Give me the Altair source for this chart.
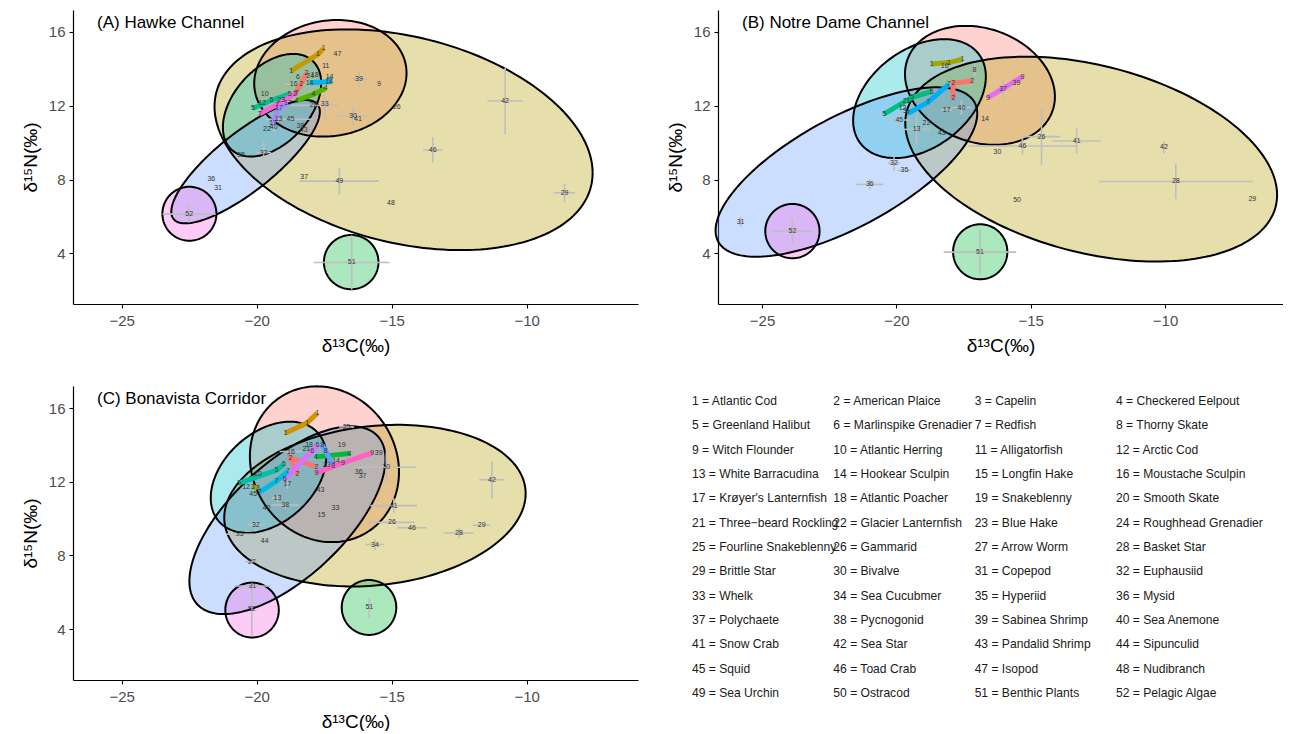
import altair as alt
import numpy as np
import pandas as pd

FONT = "Liberation Sans"
W, H = 565, 294
XT = "δ¹³C(‰)"
YT = "δ¹⁵N(‰)"

# ellipse fill colours per group
GCOL = {"red": "#F8766D", "olive": "#B79F00", "green": "#00BA38",
        "cyan": "#00BFC4", "blue": "#619CFF", "magenta": "#F564E3"}

# ---------------- Panel A: Hawke Channel ----------------
A_xdom = [-26.8, -5.88]
A_ydom = [1.26, 17.19]
# group, cx, cy, rx, ry, rho
A_ell = [("red", -17.27, 13.49, 2.82, 3.16, 0.09),
         ("olive", -14.56, 10.16, 7.0, 5.98, -0.30),
         ("green", -16.5, 3.53, 1.01, 1.47, 0.0),
         ("cyan", -19.43, 12.03, 1.82, 2.78, 0.43),
         ("blue", -20.41, 8.97, 2.75, 3.34, 0.81),
         ("magenta", -22.49, 6.15, 1.0, 1.46, 0.0)]
A_lines = [("1", -18.72, 13.89), ("1", -17.73, 14.79), ("1", -17.52, 15.11),
           ("2", -18.58, 12.62), ("2", -18.35, 13.2), ("2", -18.16, 13.76),
           ("4", -18.53, 12.28), ("4", -17.9, 12.62), ("4", -17.44, 12.95),
           ("5", -20.14, 11.86), ("5", -19.45, 12.3), ("5", -18.78, 12.64),
           ("7", -19.89, 11.56), ("7", -19.25, 12.05), ("7", -18.53, 12.71),
           ("14", -18.04, 13.25), ("14", -17.32, 13.3), ("14", -17.3, 13.55),
           ("17", -19.4, 11.05), ("17", -19.17, 11.88), ("17", -18.84, 12.13)]
A_line_col = {"1": "#C49A00", "2": "#F8766D", "4": "#53B400", "5": "#00C094",
              "14": "#00B6EB", "17": "#A58AFF", "7": "#FB61D7"}
# label, x, y, x error, y error
A_pts = [("47", -17.01, 14.79, 0, 0), ("11", -17.44, 14.16, 0, 0),
         ("39", -16.21, 13.45, 0.3, 0.43), ("9", -15.47, 13.18, 0, 0),
         ("26", -14.81, 11.92, 0, 0), ("42", -10.8, 12.26, 0.66, 1.8),
         ("46", -13.48, 9.6, 0.36, 0.7), ("29", -8.6, 7.29, 0.4, 0.5),
         ("48", -15.03, 6.73, 0, 0), ("49", -16.94, 7.92, 1.47, 0.74),
         ("37", -18.24, 8.16, 0, 0), ("51", -16.48, 3.51, 1.4, 1.47),
         ("52", -22.5, 6.13, 0.98, 0.45), ("36", -21.68, 8.03, 0, 0),
         ("31", -21.43, 7.53, 0, 0), ("35", -20.57, 9.33, 0, 0),
         ("32", -19.74, 9.46, 0.28, 0.59), ("22", -19.62, 10.72, 0, 0),
         ("40", -19.37, 10.83, 0, 0.25), ("13", -19.19, 11.27, 0, 0),
         ("45", -18.75, 11.27, 0.9, 0), ("38", -18.38, 10.9, 0, 0),
         ("43", -18.26, 10.69, 0, 0), ("30", -16.43, 11.45, 0.59, 0.5),
         ("41", -16.25, 11.3, 0, 0), ("28", -17.89, 12.02, 0.9, 0),
         ("33", -17.48, 12.08, 0, 0.9), ("6", -18.47, 13.54, 0, 0),
         ("16", -18.63, 13.18, 0.35, 0), ("10", -19.70, 12.64, 0, 0),
         ("23", -19.09, 12.31, 0, 0), ("12", -19.79, 12.17, 0, 0),
         ("24", -18.02, 13.62, 0, 0), ("18", -17.85, 13.68, 0, 0)]

# ---------------- Panel B: Notre Dame Channel ----------------
B_xdom = [-26.64, -5.61]
B_ydom = [1.26, 17.19]
B_ell = [("red", -16.89, 13.11, 2.79, 3.22, -0.19),
         ("olive", -12.75, 9.11, 6.92, 5.55, -0.35),
         ("green", -16.88, 4.09, 1.01, 1.49, 0.0),
         ("cyan", -19.14, 12.39, 2.47, 3.22, 0.37),
         ("blue", -21.86, 8.41, 4.87, 4.59, 0.69),
         ("magenta", -23.87, 5.21, 1.01, 1.47, 0.0)]
B_lines = [("1", -18.69, 14.27), ("1", -18.04, 14.34), ("1", -17.54, 14.52),
           ("2", -17.89, 12.4), ("2", -17.89, 13.22), ("2", -17.18, 13.34),
           ("5", -20.45, 11.56), ("5", -19.41, 12.46), ("5", -18.69, 12.77),
           ("7", -19.56, 11.59), ("7", -18.82, 12.2), ("7", -18.05, 13.16),
           ("9", -16.59, 12.44), ("9", -15.31, 13.58)]
B_line_col = {"1": "#A3A500", "2": "#F8766D", "5": "#00BF7D", "7": "#00B0F6", "9": "#E76BF3"}
B_pts = [("16", -18.2, 14.17, 0, 0), ("8", -17.09, 13.96, 0, 0.35),
         ("37", -16.03, 12.89, 0.3, 0.5), ("39", -15.53, 13.22, 0, 0),
         ("17", -18.13, 11.77, 0.2, 0), ("40", -17.58, 11.9, 0.39, 0.4),
         ("14", -16.7, 11.27, 0, 0), ("45", -19.89, 11.23, 0.42, 0.45),
         ("13", -19.25, 10.72, 0.49, 0.86), ("22", -18.88, 11.05, 0, 0.2),
         ("43", -18.32, 10.54, 0, 0), ("30", -16.24, 9.51, 0, 0),
         ("46", -15.31, 9.82, 2.0, 0.47), ("26", -14.6, 10.33, 0.7, 1.54),
         ("41", -13.29, 10.09, 0.9, 0.68), ("42", -10.04, 9.75, 0, 0.33),
         ("28", -9.60, 7.90, 2.86, 0.97), ("50", -15.51, 6.89, 0, 0),
         ("29", -6.75, 6.93, 0, 0), ("51", -16.89, 4.07, 1.35, 1.22),
         ("52", -23.87, 5.21, 0.76, 0.68), ("31", -25.80, 5.72, 0, 0.27),
         ("36", -20.99, 7.74, 0.5, 0.27), ("35", -19.70, 8.50, 0.26, 0),
         ("32", -20.09, 8.9, 0.23, 0.4), ("12", -19.77, 11.9, 0, 0),
         ("3", -19.68, 11.7, 0, 0), ("21", -19.62, 12.25, 0, 0)]

# ---------------- Panel C: Bonavista Corridor ----------------
C_xdom = [-26.8, -5.88]
C_ydom = [1.23, 17.2]
C_ell = [("red", -17.49, 12.95, 2.76, 4.23, -0.1),
         ("olive", -15.62, 10.70, 5.58, 4.39, 0.15),
         ("green", -15.84, 5.17, 1.01, 1.49, 0.0),
         ("cyan", -19.56, 12.24, 2.14, 3.02, 0.37),
         ("blue", -18.86, 9.91, 3.63, 5.1, 0.65),
         ("magenta", -20.17, 5.03, 0.99, 1.49, 0.0)]
C_lines = [("1", -18.93, 14.65), ("1", -18.13, 15.2), ("1", -17.75, 15.73),
           ("2", -18.49, 12.4), ("2", -18.75, 13.31), ("2", -17.79, 12.8),
           ("3", -20.15, 11.73), ("3", -19.95, 11.65),
           ("4", -17.81, 13.35), ("4", -16.56, 13.53),
           ("5", -20.65, 11.93), ("5", -19.27, 12.62), ("5", -18.99, 12.95),
           ("6", -18.96, 12.13), ("6", -17.94, 13.67), ("6", -17.75, 13.98),
           ("7", -19.89, 11.44), ("7", -19.27, 12.02), ("7", -18.84, 12.58),
           ("8", -17.57, 13.98), ("8", -17.44, 13.67), ("8", -17.17, 12.84),
           ("9", -17.79, 12.48), ("9", -16.8, 13.02), ("9", -15.72, 13.57)]
C_line_col = {"1": "#D39200", "2": "#F8766D", "3": "#93AA00", "4": "#00BA38",
              "5": "#00C19F", "6": "#DB72FB", "7": "#00B9E3", "8": "#619CFF", "9": "#FF61C3"}
C_pts = [("25", -16.67, 14.98, 0.28, 0), ("18", -18.06, 14.0, 0, 0),
         ("21", -18.16, 13.77, 0, 0), ("19", -16.85, 14.0, 0, 0),
         ("16", -18.73, 13.64, 0.42, 0), ("39", -15.48, 13.57, 0, 0),
         ("12", -20.39, 11.71, 0, 0), ("45", -20.13, 11.31, 0, 0),
         ("10", -19.95, 12.44, 0, 0), ("17", -18.86, 11.88, 0, 0.27),
         ("14", -17.06, 13.11, 0, 0), ("23", -17.41, 12.89, 0, 0),
         ("36", -16.22, 12.53, 0, 0), ("37", -16.08, 12.33, 0, 0),
         ("30", -15.2, 12.79, 1.1, 0.82), ("42", -11.29, 12.11, 0.47, 1.03),
         ("43", -17.64, 11.57, 0, 0), ("13", -19.23, 11.1, 0.2, 0.2),
         ("38", -18.94, 10.73, 0.52, 0.2), ("40", -19.64, 10.55, 0, 0),
         ("33", -17.08, 10.55, 0, 0), ("15", -17.6, 10.19, 0, 0),
         ("41", -14.92, 10.7, 0.87, 0.4), ("26", -14.99, 9.79, 0.84, 0),
         ("46", -14.25, 9.5, 0.54, 0), ("28", -12.51, 9.21, 0.54, 0.3),
         ("29", -11.67, 9.64, 0.33, 0), ("34", -15.62, 8.59, 0.35, 0.3),
         ("32", -20.03, 9.66, 0.33, 0.36), ("35", -20.63, 9.15, 0.52, 0),
         ("44", -19.7, 8.77, 0, 0), ("27", -20.18, 7.66, 0.26, 0),
         ("31", -20.16, 6.34, 0.68, 0), ("52", -20.18, 5.06, 0, 1.45),
         ("51", -15.83, 5.17, 0, 0.55)]

# ---------------- Species key ----------------
SPECIES = ["Atlantic Cod", "American Plaice", "Capelin", "Checkered Eelpout",
           "Greenland Halibut", "Marlinspike Grenadier", "Redfish", "Thorny Skate",
           "Witch Flounder", "Atlantic Herring", "Alligatorfish", "Arctic Cod",
           "White Barracudina", "Hookear Sculpin", "Longfin Hake", "Moustache Sculpin",
           "Krøyer's Lanternfish", "Atlantic Poacher", "Snakeblenny", "Smooth Skate",
           "Three−beard Rockling", "Glacier Lanternfish", "Blue Hake", "Roughhead Grenadier",
           "Fourline Snakeblenny", "Gammarid", "Arrow Worm", "Basket Star",
           "Brittle Star", "Bivalve", "Copepod", "Euphausiid",
           "Whelk", "Sea Cucubmer", "Hyperiid", "Mysid",
           "Polychaete", "Pycnogonid", "Sabinea Shrimp", "Sea Anemone",
           "Snow Crab", "Sea Star", "Pandalid Shrimp", "Sipunculid",
           "Squid", "Toad Crab", "Isopod", "Nudibranch",
           "Sea Urchin", "Ostracod", "Benthic Plants", "Pelagic Algae"]


def panel(ell, lines, line_col, pts, title, xdom, ydom):
    xs = alt.Scale(domain=xdom, nice=False, zero=False)
    ys = alt.Scale(domain=ydom, nice=False, zero=False)
    xax = alt.Axis(values=[-25, -20, -15, -10], title=XT, labelPadding=5, titlePadding=8)
    yax = alt.Axis(values=[4, 8, 12, 16], title=YT, labelPadding=4, titlePadding=8)

    def X(f):
        return alt.X(f, type="quantitative", scale=xs, axis=xax, title=XT)

    def Y(f):
        return alt.Y(f, type="quantitative", scale=ys, axis=yax, title=YT)

    area_rows, out_rows = [], []
    th = np.linspace(0, np.pi, 91)
    tf = np.linspace(0, 2 * np.pi, 181)
    for g, cx, cy, rx, ry, rho in ell:
        s = np.sqrt(1 - rho ** 2)
        for t in th:
            area_rows.append(dict(g=g, col=GCOL[g], x=cx + rx * np.cos(t),
                                  y=cy + ry * (rho * np.cos(t) + s * np.sin(t)),
                                  y2=cy + ry * (rho * np.cos(t) - s * np.sin(t))))
        for i, t in enumerate(tf):
            out_rows.append(dict(g=g, i=i, x=cx + rx * np.cos(t),
                                 y=cy + ry * (rho * np.cos(t) + s * np.sin(t))))
    area = alt.Chart(pd.DataFrame(area_rows)).mark_area(
        orient="vertical", fillOpacity=0.33, strokeWidth=0).encode(
        x=X("x"), y=Y("y"), y2="y2:Q",
        fill=alt.Fill("col:N", scale=None), detail="g:N")
    outline = alt.Chart(pd.DataFrame(out_rows)).mark_line(
        color="black", strokeWidth=2).encode(
        x=X("x"), y=Y("y"), detail="g:N", order="i:Q")

    pdf = pd.DataFrame(pts, columns=["lab", "x", "y", "xe", "ye"])
    hdf = pdf[pdf.xe > 0].copy()
    hdf["x_lo"] = hdf.x - hdf.xe
    hdf["x_hi"] = hdf.x + hdf.xe
    vdf = pdf[pdf.ye > 0].copy()
    vdf["y_lo"] = vdf.y - vdf.ye
    vdf["y_hi"] = vdf.y + vdf.ye
    errh = alt.Chart(hdf).mark_rule(color="#BEBEBE", strokeWidth=1.6).encode(
        x=X("x_lo"), x2="x_hi:Q", y=Y("y"))
    errv = alt.Chart(vdf).mark_rule(color="#BEBEBE", strokeWidth=1.6).encode(
        x=X("x"), y=Y("y_lo"), y2="y_hi:Q")

    ldf = pd.DataFrame(lines, columns=["sp", "x", "y"])
    ldf["i"] = range(len(ldf))
    ldf["col"] = ldf.sp.map(line_col)
    seg = alt.Chart(ldf).mark_line(strokeWidth=5, strokeCap="butt").encode(
        x=X("x"), y=Y("y"), stroke=alt.Stroke("col:N", scale=None),
        detail="sp:N", order="i:Q")

    tdf = pd.concat([pdf[["lab", "x", "y"]],
                     ldf.rename(columns={"sp": "lab"})[["lab", "x", "y"]]])
    labels = alt.Chart(tdf).mark_text(fontSize=7, font=FONT, color="#333333").encode(
        x=X("x"), y=Y("y"), text="lab:N")

    ttl = alt.Chart(pd.DataFrame({"t": [title]})).mark_text(
        align="left", baseline="middle", fontSize=17, font=FONT, color="black").encode(
        x=alt.value(24), y=alt.value(13), text="t:N")

    return alt.layer(area, outline, errh, errv, seg, labels, ttl).properties(width=W, height=H)


A = panel(A_ell, A_lines, A_line_col, A_pts, "(A) Hawke Channel", A_xdom, A_ydom)
B = panel(B_ell, B_lines, B_line_col, B_pts, "(B) Notre Dame Channel", B_xdom, B_ydom)
C = panel(C_ell, C_lines, C_line_col, C_pts, "(C) Bonavista Corridor", C_xdom, C_ydom)

leg = pd.DataFrame({"txt": [f"{k + 1} = {n}" for k, n in enumerate(SPECIES)],
                    "col": [k % 4 for k in range(len(SPECIES))],
                    "row": [k // 4 for k in range(len(SPECIES))]})
L = alt.Chart(leg).mark_text(align="left", baseline="middle", fontSize=12.1,
                             font=FONT, color="#1A1A1A").encode(
    x=alt.X("col:Q", scale=alt.Scale(domain=[0.184, 4.182], nice=False, zero=False), axis=None),
    y=alt.Y("row:Q", scale=alt.Scale(domain=[-0.617, 11.46], reverse=True, nice=False, zero=False), axis=None),
    text="txt:N").properties(width=W, height=H)

chart = alt.concat(A, B, C, L, columns=2, bounds="flush",
                   spacing=alt.RowColnumber(row=82, column=80)).resolve_scale(
    x="independent", y="independent").properties(
    padding={"left": 13, "top": 2, "right": 0, "bottom": 0}
).configure_view(stroke=None).configure_axis(
    grid=False, domainColor="black", domainWidth=1.2, tickColor="black", tickSize=4,
    tickWidth=1.1, labelFont=FONT, labelFontSize=15, labelColor="#4D4D4D",
    titleFont=FONT, titleFontSize=19, titleFontWeight="normal", titleColor="black")

chart.save("out.html", embed_options={"renderer": "svg", "actions": False})
